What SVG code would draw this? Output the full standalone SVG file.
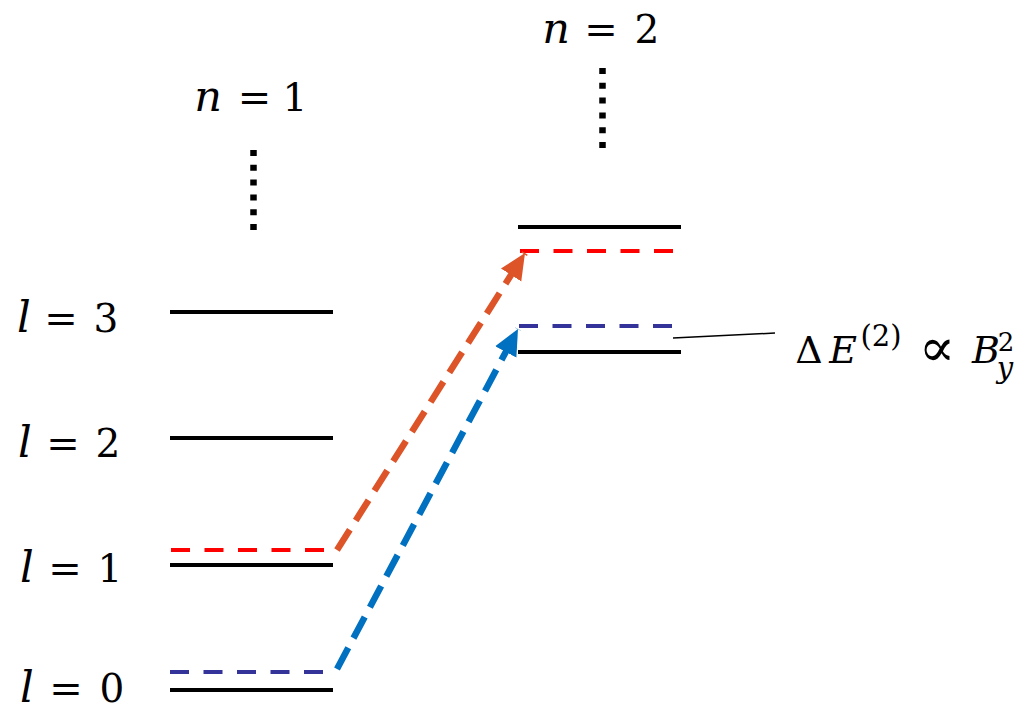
<svg xmlns="http://www.w3.org/2000/svg" width="1024" height="711" viewBox="0 0 1024 711">
<style>
.lvl{stroke:#000;stroke-width:4;fill:none}
.red{stroke:#FF0000;stroke-width:4;stroke-dasharray:19 14.5;fill:none}
.blu{stroke:#333399;stroke-width:4;stroke-dasharray:19 14.5;fill:none}
.dots{stroke:#000;stroke-width:6.5;stroke-dasharray:6 8.8;fill:none}
.t{font-family:"DejaVu Serif","Liberation Serif",serif;fill:#000;text-anchor:middle}
.i{font-style:italic}
.lv{font-size:43px}
.lv .eq{font-size:40px}
.lv .d{font-size:39px}
</style>
<defs>
<marker id="ahO" markerUnits="userSpaceOnUse" markerWidth="30" markerHeight="30" viewBox="0 0 30 30" refX="26" refY="15" orient="auto">
<path d="M0,3 L26,15 L0,27 Z" fill="#DC5428"/>
</marker>
<marker id="ahB" markerUnits="userSpaceOnUse" markerWidth="30" markerHeight="30" viewBox="0 0 30 30" refX="26" refY="15" orient="auto">
<path d="M0,3 L26,15 L0,27 Z" fill="#0070C0"/>
</marker>
</defs>

<g id="n1-levels">
<line class="lvl" x1="170" y1="312" x2="333" y2="312"/>
<line class="lvl" x1="170" y1="438" x2="333" y2="438"/>
<line class="lvl" x1="170" y1="565" x2="333" y2="565"/>
<line class="lvl" x1="170" y1="690" x2="333" y2="690"/>
<line class="red" x1="171" y1="550" x2="326" y2="550"/>
<line class="blu" x1="170" y1="672" x2="324" y2="672"/>
<line class="dots" x1="253.5" y1="150" x2="253.5" y2="230"/>
</g>

<g id="n2-levels">
<line class="lvl" x1="518" y1="227" x2="681" y2="227"/>
<line class="lvl" x1="518" y1="352" x2="681" y2="352"/>
<line class="red" x1="520" y1="251" x2="674" y2="251"/>
<line class="blu" x1="519" y1="326" x2="673" y2="326"/>
<line class="dots" x1="602.5" y1="68" x2="602.5" y2="148"/>
</g>

<g id="connectors">
<line x1="337" y1="550" x2="525" y2="253" stroke="#DC5428" stroke-width="6.5" stroke-dasharray="24 11" marker-end="url(#ahO)"/>
<line x1="337" y1="669" x2="518" y2="329" stroke="#0070C0" stroke-width="6.5" stroke-dasharray="24 11" marker-end="url(#ahB)"/>
<line x1="673" y1="338" x2="775" y2="333" stroke="#000" stroke-width="1.5"/>
</g>

<g id="label-n1">
<text class="t lv" y="111"><tspan class="i" x="208">n</tspan><tspan class="eq" x="254.5">=</tspan><tspan class="d" x="295">1</tspan></text>
</g>
<g id="label-n2">
<text class="t lv" y="43"><tspan class="i" x="556">n</tspan><tspan class="eq" x="601">=</tspan><tspan class="d" x="647">2</tspan></text>
</g>

<g id="label-l3">
<text class="t lv" y="332"><tspan class="i" x="24">l</tspan><tspan class="eq" x="61">=</tspan><tspan class="d" x="106">3</tspan></text>
</g>
<g id="label-l2">
<text class="t lv" y="457"><tspan class="i" x="25">l</tspan><tspan class="eq" x="63">=</tspan><tspan class="d" x="108">2</tspan></text>
</g>
<g id="label-l1">
<text class="t lv" y="582"><tspan class="i" x="27">l</tspan><tspan class="eq" x="65">=</tspan><tspan class="d" x="110">1</tspan></text>
</g>
<g id="label-l0">
<text class="t lv" y="702"><tspan class="i" x="27">l</tspan><tspan class="eq" x="66">=</tspan><tspan class="d" x="112">0</tspan></text>
</g>

<g id="label-dE">
<text class="t" font-size="38"><tspan x="809" y="363">Δ</tspan><tspan class="i" x="843" y="363">E</tspan><tspan x="881" y="346" font-size="29">(2)</tspan><tspan x="937" y="366" font-size="54">∝</tspan><tspan class="i" x="986" y="363">B</tspan><tspan class="i" x="1005" y="378" font-size="29">y</tspan><tspan x="1006" y="351" font-size="26">2</tspan></text>
</g>
</svg>
